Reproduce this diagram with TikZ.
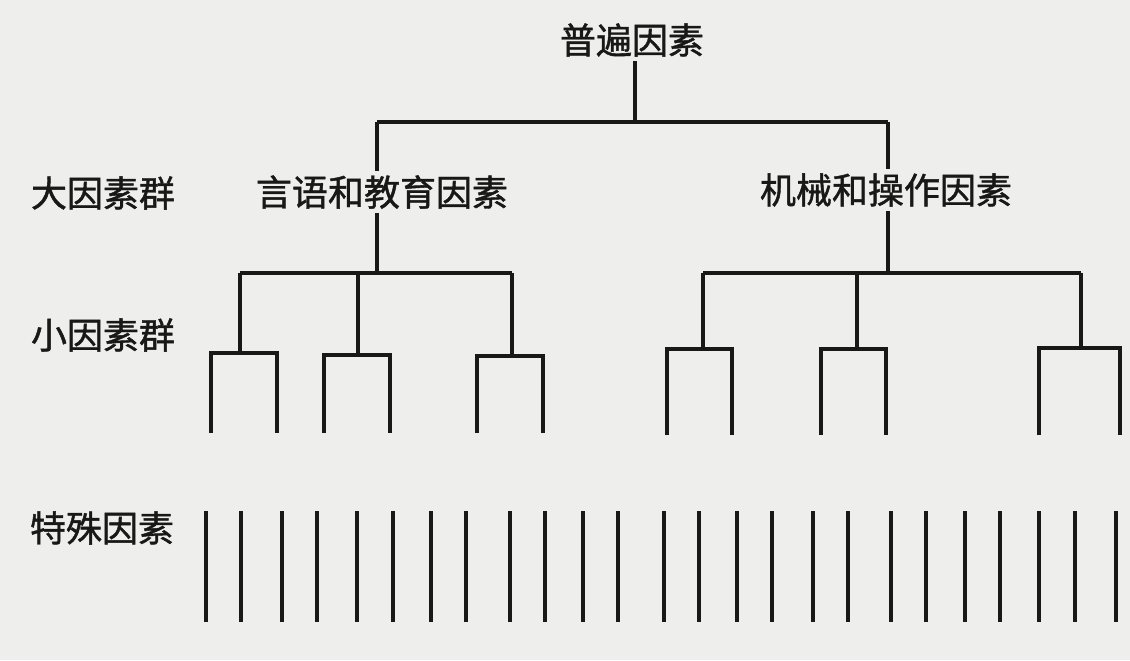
\documentclass[tikz,border=0pt]{standalone}
\usepackage{fontspec}
\newfontfamily\cjk{Noto Sans CJK SC}[FakeBold=1.2]
\definecolor{paper}{RGB}{238,238,236}
\definecolor{ink}{RGB}{24,24,24}
\tikzset{
  branch/.style={draw=ink,line width=2pt},
  grouplabel/.style={font=\cjk\fontsize{18}{20}\selectfont,text=ink,inner sep=2pt},
}
\begin{document}
\begin{tikzpicture}[x=0.5pt,y=-0.5pt]
% page size of the scan, in pixels
\fill[paper] (0,0) rectangle (1130,660);
\useasboundingbox (0,0) rectangle (1130,660);
\node[grouplabel] (top) at (632,40) {普遍因素};
\node[grouplabel] (speech) at (382,192) {言语和教育因素};
\node[grouplabel] (mech) at (886,190) {机械和操作因素};
\node[grouplabel] (rowA) at (103,193) {大因素群};
\node[grouplabel] (rowB) at (103,335) {小因素群};
\node[grouplabel] (rowC) at (102,528) {特殊因素};
\coordinate (j0) at (635,122);
\coordinate (jA) at (377,122);
\coordinate (jB) at (888,122);
\coordinate (kA) at (377,273);
\coordinate (kB) at (888,273);
\draw[branch] (top.south -| j0) -- (j0);
\draw[branch] (jA) -- (jB);
\draw[branch] (jA) -- (jA |- speech.north);
\draw[branch] (speech.south -| jA) -- (kA);
\draw[branch] (jB) -- (jB |- mech.north);
\draw[branch] (mech.south -| jB) -- (kB);
% small groups
\draw[branch] (240,273) -- (512,273);
\foreach \s/\l/\r/\y in {240/211/277/353, 358/324/390/355, 512/477/543/356}
  \draw[branch] (\s,273) -- (\s,\y) (\l,433) |- (\r,\y) -- (\r,433);
\draw[branch] (703,273) -- (1081,273);
\foreach \s/\l/\r/\y in {703/667/732/349, 857/821/886/349, 1081/1039/1120/348}
  \draw[branch] (\s,273) -- (\s,\y) (\l,435) |- (\r,\y) -- (\r,435);
% special factors
\foreach \x in {206,241,282,317,357,393,431,466,510,545,583,618,664,699,737,772,813,848,891,926,965,1000,1039,1075,1116}
  \draw[branch] (\x,511) -- (\x,622);
\end{tikzpicture}
\end{document}
